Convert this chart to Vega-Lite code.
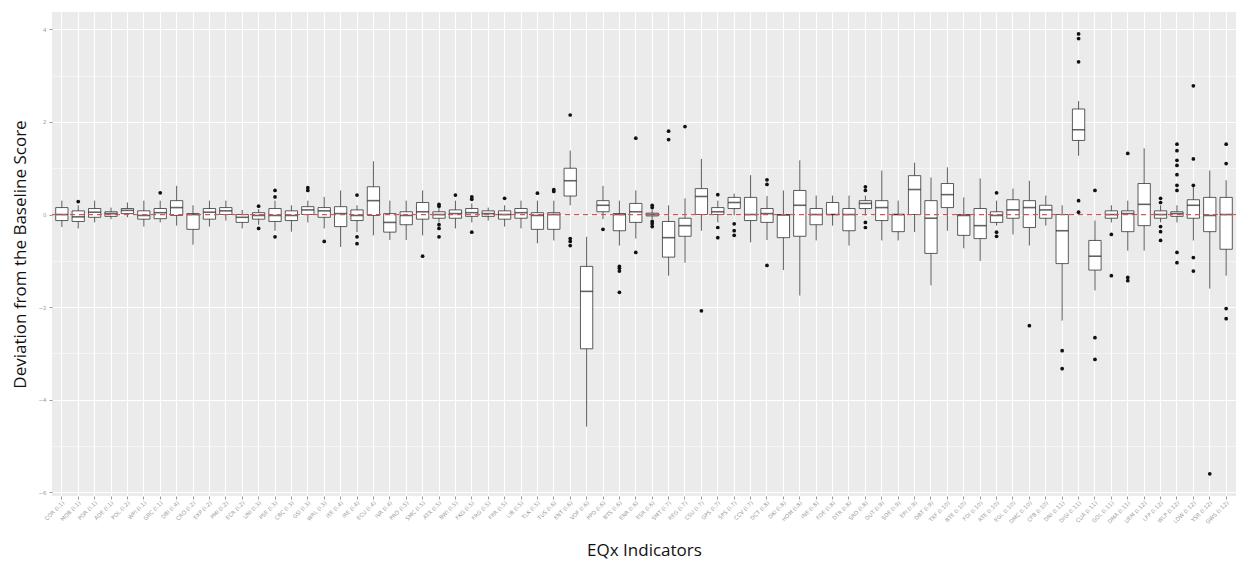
{
  "$schema": "https://vega.github.io/schema/vega-lite/v6.json",
  "width": 1184,
  "height": 484,
  "autosize": {"type": "none"},
  "padding": {"left": 52, "top": 12, "right": 14, "bottom": 70},
  "background": "white",
  "datasets": {
    "boxes": [
      {"c": "COR (I.1)", "lw": -0.27, "q1": -0.13, "med": 0.0, "q3": 0.15, "uw": 0.3},
      {"c": "MOB (I.1)", "lw": -0.3, "q1": -0.15, "med": -0.05, "q3": 0.08, "uw": 0.2},
      {"c": "PDR (I.1)", "lw": -0.17, "q1": -0.06, "med": 0.05, "q3": 0.13, "uw": 0.3},
      {"c": "ADE (I.1)", "lw": -0.1, "q1": -0.04, "med": 0.02, "q3": 0.06, "uw": 0.15},
      {"c": "POL (I.2)", "lw": -0.06, "q1": 0.02, "med": 0.09, "q3": 0.13, "uw": 0.26},
      {"c": "WPI (I.1)", "lw": -0.26, "q1": -0.1, "med": -0.02, "q3": 0.08, "uw": 0.3},
      {"c": "GRC (I.1)", "lw": -0.17, "q1": -0.09, "med": 0.04, "q3": 0.13, "uw": 0.3},
      {"c": "DBI (I.4)", "lw": -0.24, "q1": -0.02, "med": 0.15, "q3": 0.3, "uw": 0.62},
      {"c": "CRO (I.2)", "lw": -0.65, "q1": -0.32, "med": 0.0, "q3": 0.02, "uw": 0.2},
      {"c": "EXP (I.2)", "lw": -0.26, "q1": -0.1, "med": 0.05, "q3": 0.13, "uw": 0.3},
      {"c": "PMI (I.2)", "lw": -0.13, "q1": 0.0, "med": 0.08, "q3": 0.15, "uw": 0.3},
      {"c": "ECR (I.2)", "lw": -0.3, "q1": -0.17, "med": -0.06, "q3": 0.0, "uw": 0.1},
      {"c": "UNI (I.3)", "lw": -0.22, "q1": -0.1, "med": -0.02, "q3": 0.04, "uw": 0.12},
      {"c": "PSE (I.3)", "lw": -0.35, "q1": -0.15, "med": -0.02, "q3": 0.13, "uw": 0.3},
      {"c": "CBC (I.3)", "lw": -0.37, "q1": -0.13, "med": -0.02, "q3": 0.08, "uw": 0.2},
      {"c": "GSI (I.3)", "lw": -0.17, "q1": 0.0, "med": 0.1, "q3": 0.17, "uw": 0.3},
      {"c": "WRL (I.3)", "lw": -0.3, "q1": -0.06, "med": 0.08, "q3": 0.15, "uw": 0.38},
      {"c": "IEE (I.4)", "lw": -0.7, "q1": -0.26, "med": 0.02, "q3": 0.17, "uw": 0.52},
      {"c": "IRE (I.4)", "lw": -0.38, "q1": -0.13, "med": -0.02, "q3": 0.1, "uw": 0.2},
      {"c": "ECU (I.4)", "lw": -0.45, "q1": -0.02, "med": 0.3, "q3": 0.6, "uw": 1.15},
      {"c": "IVA (I.4)", "lw": -0.55, "q1": -0.38, "med": -0.17, "q3": 0.02, "uw": 0.3},
      {"c": "PRO (I.5)", "lw": -0.55, "q1": -0.22, "med": -0.02, "q3": 0.06, "uw": 0.3},
      {"c": "SMC (I.5)", "lw": -0.45, "q1": -0.1, "med": 0.06, "q3": 0.26, "uw": 0.52},
      {"c": "ATX (I.5)", "lw": -0.17, "q1": -0.08, "med": 0.0, "q3": 0.06, "uw": 0.15},
      {"c": "BWI (I.5)", "lw": -0.3, "q1": -0.08, "med": 0.02, "q3": 0.1, "uw": 0.3},
      {"c": "FKG (I.5)", "lw": -0.17, "q1": -0.04, "med": 0.04, "q3": 0.13, "uw": 0.24},
      {"c": "FRG (I.5)", "lw": -0.13, "q1": -0.04, "med": 0.02, "q3": 0.08, "uw": 0.15},
      {"c": "FRR (I.5)", "lw": -0.26, "q1": -0.1, "med": 0.0, "q3": 0.08, "uw": 0.2},
      {"c": "LIB (I.5)", "lw": -0.3, "q1": -0.08, "med": 0.04, "q3": 0.13, "uw": 0.3},
      {"c": "TLK (I.5)", "lw": -0.62, "q1": -0.32, "med": -0.02, "q3": 0.04, "uw": 0.3},
      {"c": "TUS (I.6)", "lw": -0.56, "q1": -0.32, "med": 0.0, "q3": 0.04, "uw": 0.3},
      {"c": "ENT (I.6)", "lw": 0.2, "q1": 0.4, "med": 0.73, "q3": 1.0, "uw": 1.38},
      {"c": "VOF (I.6)", "lw": -4.58, "q1": -2.9, "med": -1.66, "q3": -1.12, "uw": -0.48},
      {"c": "PPD (I.6)", "lw": -0.1, "q1": 0.06, "med": 0.2, "q3": 0.3, "uw": 0.62},
      {"c": "BTS (I.6)", "lw": -0.67, "q1": -0.35, "med": 0.0, "q3": 0.02, "uw": 0.3},
      {"c": "ENR (I.6)", "lw": -0.52, "q1": -0.17, "med": 0.06, "q3": 0.24, "uw": 0.52},
      {"c": "ESR (I.6)", "lw": -0.1, "q1": -0.03, "med": 0.0, "q3": 0.03, "uw": 0.1},
      {"c": "SMT (I.7)", "lw": -1.32, "q1": -0.92, "med": -0.5, "q3": -0.15, "uw": 0.2},
      {"c": "REG (I.7)", "lw": -1.04, "q1": -0.47, "med": -0.24, "q3": -0.08, "uw": 0.35},
      {"c": "CSU (I.7)", "lw": -0.35, "q1": 0.0, "med": 0.39, "q3": 0.56, "uw": 1.2},
      {"c": "GPS (I.7)", "lw": -0.17, "q1": 0.0, "med": 0.06, "q3": 0.15, "uw": 0.3},
      {"c": "SPS (I.7)", "lw": -0.02, "q1": 0.13, "med": 0.26, "q3": 0.37, "uw": 0.45},
      {"c": "CCV (I.7)", "lw": -0.6, "q1": -0.13, "med": 0.0, "q3": 0.37, "uw": 0.85},
      {"c": "DCT (I.8)", "lw": -0.55, "q1": -0.17, "med": 0.02, "q3": 0.13, "uw": 0.4},
      {"c": "DKI (I.8)", "lw": -1.2, "q1": -0.5, "med": -0.01, "q3": 0.0, "uw": 0.52},
      {"c": "HOM (I.8)", "lw": -1.75, "q1": -0.47, "med": 0.2, "q3": 0.52, "uw": 1.17},
      {"c": "INE (I.8)", "lw": -0.56, "q1": -0.22, "med": 0.0, "q3": 0.13, "uw": 0.41},
      {"c": "FDE (I.8)", "lw": -0.24, "q1": 0.0, "med": 0.0, "q3": 0.26, "uw": 0.41},
      {"c": "DTR (I.8)", "lw": -0.67, "q1": -0.35, "med": 0.0, "q3": 0.13, "uw": 0.41},
      {"c": "SRD (I.8)", "lw": -0.02, "q1": 0.13, "med": 0.24, "q3": 0.3, "uw": 0.41},
      {"c": "DUT (I.9)", "lw": -0.56, "q1": -0.13, "med": 0.15, "q3": 0.3, "uw": 0.95},
      {"c": "SOE (I.9)", "lw": -0.56, "q1": -0.37, "med": 0.0, "q3": 0.0, "uw": 0.3},
      {"c": "EPI (I.9)", "lw": -0.38, "q1": 0.0, "med": 0.54, "q3": 0.84, "uw": 1.12},
      {"c": "DBT (I.9)", "lw": -1.53, "q1": -0.84, "med": -0.08, "q3": 0.3, "uw": 0.8},
      {"c": "TRF (I.10)", "lw": -0.35, "q1": 0.15, "med": 0.43, "q3": 0.67, "uw": 1.02},
      {"c": "BTE (I.10)", "lw": -0.73, "q1": -0.45, "med": -0.02, "q3": 0.0, "uw": 0.37},
      {"c": "FDI (I.10)", "lw": -1.0, "q1": -0.52, "med": -0.24, "q3": 0.13, "uw": 0.78},
      {"c": "RTE (I.10)", "lw": -0.24, "q1": -0.17, "med": -0.02, "q3": 0.06, "uw": 0.3},
      {"c": "EGL (I.10)", "lw": -0.43, "q1": -0.08, "med": 0.1, "q3": 0.32, "uw": 0.56},
      {"c": "DMC (I.10)", "lw": -0.67, "q1": -0.28, "med": 0.15, "q3": 0.3, "uw": 0.73},
      {"c": "CFB (I.10)", "lw": -0.24, "q1": -0.08, "med": 0.1, "q3": 0.2, "uw": 0.41},
      {"c": "DNI (I.11)", "lw": -2.29, "q1": -1.06, "med": -0.35, "q3": 0.0, "uw": 0.2},
      {"c": "DIGI (I.11)", "lw": 1.27, "q1": 1.6, "med": 1.83, "q3": 2.28, "uw": 2.45},
      {"c": "CUA (I.11)", "lw": -1.64, "q1": -1.2, "med": -0.9, "q3": -0.56, "uw": -0.13},
      {"c": "GOL (I.11)", "lw": -0.17, "q1": -0.08, "med": 0.0, "q3": 0.08, "uw": 0.2},
      {"c": "DMA (I.11)", "lw": -0.78, "q1": -0.37, "med": 0.02, "q3": 0.08, "uw": 0.3},
      {"c": "UEM (I.12)", "lw": -0.78, "q1": -0.24, "med": 0.22, "q3": 0.67, "uw": 1.43},
      {"c": "LFP (I.12)", "lw": -0.17, "q1": -0.08, "med": 0.0, "q3": 0.08, "uw": 0.2},
      {"c": "WLP (I.12)", "lw": -0.17, "q1": -0.04, "med": 0.02, "q3": 0.06, "uw": 0.2},
      {"c": "LOW (I.12)", "lw": -0.56, "q1": -0.08, "med": 0.2, "q3": 0.32, "uw": 0.63},
      {"c": "YSR (I.12)", "lw": -1.6, "q1": -0.37, "med": -0.02, "q3": 0.37, "uw": 0.95},
      {"c": "GWS (I.12)", "lw": -1.32, "q1": -0.75, "med": 0.0, "q3": 0.37, "uw": 0.74}
    ],
    "outliers": [
      {"c": "MOB (I.1)", "v": 0.28},
      {"c": "GRC (I.1)", "v": 0.47},
      {"c": "UNI (I.3)", "v": 0.18},
      {"c": "UNI (I.3)", "v": -0.3},
      {"c": "PSE (I.3)", "v": 0.52},
      {"c": "PSE (I.3)", "v": 0.38},
      {"c": "PSE (I.3)", "v": -0.48},
      {"c": "GSI (I.3)", "v": 0.58},
      {"c": "GSI (I.3)", "v": 0.52},
      {"c": "WRL (I.3)", "v": -0.58},
      {"c": "IRE (I.4)", "v": 0.42},
      {"c": "IRE (I.4)", "v": -0.48},
      {"c": "IRE (I.4)", "v": -0.63},
      {"c": "SMC (I.5)", "v": -0.9},
      {"c": "ATX (I.5)", "v": 0.22},
      {"c": "ATX (I.5)", "v": 0.18},
      {"c": "ATX (I.5)", "v": -0.22},
      {"c": "ATX (I.5)", "v": -0.3},
      {"c": "ATX (I.5)", "v": -0.48},
      {"c": "BWI (I.5)", "v": 0.42},
      {"c": "FKG (I.5)", "v": 0.38},
      {"c": "FKG (I.5)", "v": 0.33},
      {"c": "FKG (I.5)", "v": -0.38},
      {"c": "FRR (I.5)", "v": 0.35},
      {"c": "TLK (I.5)", "v": 0.46},
      {"c": "TUS (I.6)", "v": 0.54},
      {"c": "TUS (I.6)", "v": 0.5},
      {"c": "ENT (I.6)", "v": 2.15},
      {"c": "ENT (I.6)", "v": -0.52},
      {"c": "ENT (I.6)", "v": -0.58},
      {"c": "ENT (I.6)", "v": -0.67},
      {"c": "PPD (I.6)", "v": -0.32},
      {"c": "BTS (I.6)", "v": -1.12},
      {"c": "BTS (I.6)", "v": -1.16},
      {"c": "BTS (I.6)", "v": -1.22},
      {"c": "BTS (I.6)", "v": -1.68},
      {"c": "ENR (I.6)", "v": 1.65},
      {"c": "ENR (I.6)", "v": -0.82},
      {"c": "ESR (I.6)", "v": 0.2},
      {"c": "ESR (I.6)", "v": 0.15},
      {"c": "ESR (I.6)", "v": -0.15},
      {"c": "ESR (I.6)", "v": -0.2},
      {"c": "ESR (I.6)", "v": -0.26},
      {"c": "SMT (I.7)", "v": 1.8},
      {"c": "SMT (I.7)", "v": 1.62},
      {"c": "REG (I.7)", "v": 1.9},
      {"c": "CSU (I.7)", "v": -2.08},
      {"c": "GPS (I.7)", "v": 0.43},
      {"c": "GPS (I.7)", "v": -0.28},
      {"c": "GPS (I.7)", "v": -0.5},
      {"c": "SPS (I.7)", "v": -0.2},
      {"c": "SPS (I.7)", "v": -0.35},
      {"c": "SPS (I.7)", "v": -0.45},
      {"c": "DCT (I.8)", "v": 0.75},
      {"c": "DCT (I.8)", "v": 0.65},
      {"c": "DCT (I.8)", "v": -1.1},
      {"c": "SRD (I.8)", "v": 0.6},
      {"c": "SRD (I.8)", "v": 0.52},
      {"c": "SRD (I.8)", "v": -0.17},
      {"c": "SRD (I.8)", "v": -0.28},
      {"c": "RTE (I.10)", "v": 0.47},
      {"c": "RTE (I.10)", "v": -0.38},
      {"c": "RTE (I.10)", "v": -0.47},
      {"c": "DMC (I.10)", "v": -2.4},
      {"c": "DNI (I.11)", "v": -2.94},
      {"c": "DNI (I.11)", "v": -3.33},
      {"c": "DIGI (I.11)", "v": 3.9},
      {"c": "DIGI (I.11)", "v": 3.8},
      {"c": "DIGI (I.11)", "v": 3.3},
      {"c": "DIGI (I.11)", "v": 0.3},
      {"c": "DIGI (I.11)", "v": 0.05},
      {"c": "CUA (I.11)", "v": 0.52},
      {"c": "CUA (I.11)", "v": -2.66},
      {"c": "CUA (I.11)", "v": -3.13},
      {"c": "GOL (I.11)", "v": -0.43},
      {"c": "GOL (I.11)", "v": -1.32},
      {"c": "DMA (I.11)", "v": 1.32},
      {"c": "DMA (I.11)", "v": -1.36},
      {"c": "DMA (I.11)", "v": -1.43},
      {"c": "LFP (I.12)", "v": 0.35},
      {"c": "LFP (I.12)", "v": 0.26},
      {"c": "LFP (I.12)", "v": -0.26},
      {"c": "LFP (I.12)", "v": -0.37},
      {"c": "LFP (I.12)", "v": -0.56},
      {"c": "WLP (I.12)", "v": 1.52},
      {"c": "WLP (I.12)", "v": 1.38},
      {"c": "WLP (I.12)", "v": 1.17},
      {"c": "WLP (I.12)", "v": 1.06},
      {"c": "WLP (I.12)", "v": 0.86},
      {"c": "WLP (I.12)", "v": 0.63},
      {"c": "WLP (I.12)", "v": 0.52},
      {"c": "WLP (I.12)", "v": -0.82},
      {"c": "WLP (I.12)", "v": -1.04},
      {"c": "LOW (I.12)", "v": 2.78},
      {"c": "LOW (I.12)", "v": 1.2},
      {"c": "LOW (I.12)", "v": 0.63},
      {"c": "LOW (I.12)", "v": -0.93},
      {"c": "LOW (I.12)", "v": -1.22},
      {"c": "YSR (I.12)", "v": -5.6},
      {"c": "GWS (I.12)", "v": 1.52},
      {"c": "GWS (I.12)", "v": 1.1},
      {"c": "GWS (I.12)", "v": -2.03},
      {"c": "GWS (I.12)", "v": -2.25}
    ]
  },
  "config": {
    "view": {"fill": "#EBEBEB", "stroke": null},
    "axis": {
      "domain": false,
      "gridColor": "white",
      "tickColor": "#9a9a9a",
      "tickSize": 3,
      "labelColor": "#9a9a9a",
      "labelFont": "DejaVu Sans",
      "labelFontSize": 5.5,
      "titleFont": "Open Sans",
      "titleFontSize": 17,
      "titleFontWeight": "normal",
      "titleColor": "#111"
    }
  },
  "layer": [
    {
      "data": {"name": "boxes"},
      "mark": {"type": "rule", "color": "#333", "strokeWidth": 0.8},
      "encoding": {
        "x": {
          "field": "c", "type": "nominal", "sort": null,
          "scale": {"paddingInner": 0.25, "paddingOuter": 0.225},
          "axis": {"title": "EQx Indicators", "labelAngle": -45, "labelAlign": "right", "labelBaseline": "top", "labelPadding": 1, "grid": true, "gridWidth": 1.1, "bandPosition": 0.5, "titlePadding": 18}
        },
        "y": {
          "field": "lw", "type": "quantitative",
          "scale": {"domain": [-6.08, 4.375], "nice": false, "zero": false},
          "axis": {
            "title": "Deviation from the Baseline Score",
            "values": [-6, -5, -4, -3, -2, -1, 0, 1, 2, 3, 4],
            "labelExpr": "datum.value % 2 === 0 ? format(datum.value, 'd') : ''",
            "gridWidth": {"expr": "datum.value % 2 === 0 ? 1.1 : 0.5"},
            "tickOpacity": {"expr": "datum.value % 2 === 0 ? 1 : 0"},
            "titlePadding": 8,
            "labelPadding": 3
          }
        },
        "y2": {"field": "uw"}
      }
    },
    {
      "data": {"name": "boxes"},
      "mark": {"type": "bar", "fill": "white", "stroke": "#333", "strokeWidth": 0.8},
      "encoding": {
        "x": {"field": "c", "type": "nominal", "sort": null},
        "y": {"field": "q1", "type": "quantitative"},
        "y2": {"field": "q3"}
      }
    },
    {
      "data": {"name": "boxes"},
      "mark": {"type": "tick", "color": "#222", "thickness": 1.6, "size": 12.3},
      "encoding": {
        "x": {"field": "c", "type": "nominal", "sort": null},
        "y": {"field": "med", "type": "quantitative"}
      }
    },
    {
      "data": {"name": "outliers"},
      "mark": {"type": "point", "filled": true, "color": "#111", "opacity": 1, "size": 14},
      "encoding": {
        "x": {"field": "c", "type": "nominal", "sort": null},
        "y": {"field": "v", "type": "quantitative"}
      }
    },
    {
      "data": {"values": [{}]},
      "mark": {"type": "rule", "color": "#D9534F", "strokeDash": [5, 4], "strokeWidth": 1.2},
      "encoding": {"y": {"datum": 0}}
    }
  ]
}
